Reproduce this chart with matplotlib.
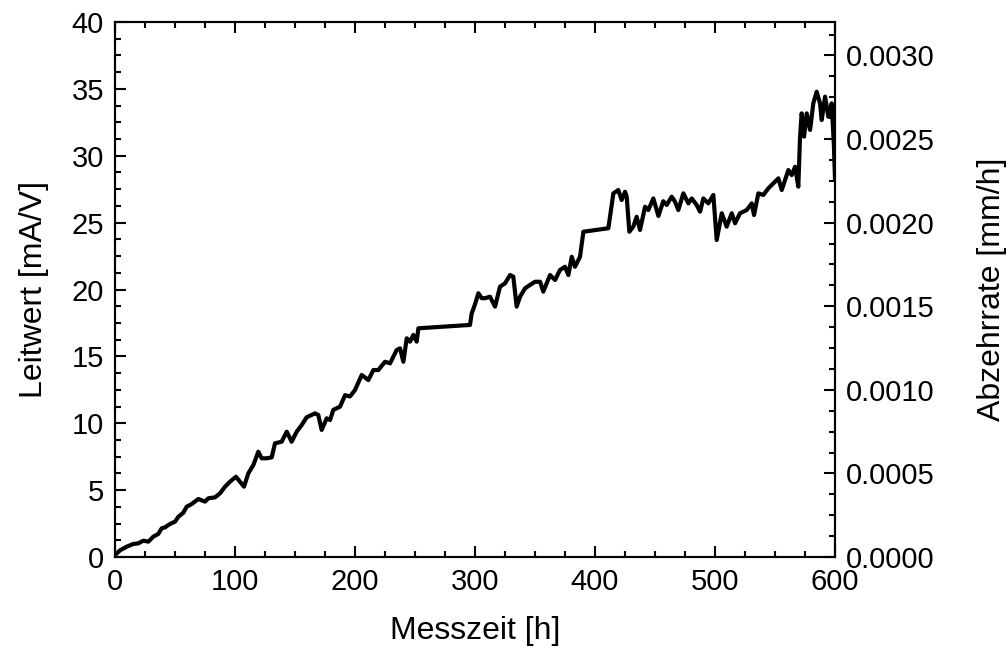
import matplotlib
matplotlib.use("Agg")
import matplotlib.pyplot as plt
from matplotlib.ticker import MultipleLocator, FormatStrFormatter

plt.rcParams['font.family'] = ['Liberation Sans', 'DejaVu Sans']

# Messzeit [h]
zeit = [
    0, 4.2, 9.7, 15, 19.4, 23.6, 27.8, 31.9, 36, 38.9, 41.7, 45.8, 50, 52.8,
    56.9, 59.7, 63.9, 69.4, 75, 77.8, 83.3, 87.5, 91.7, 95.8, 100.8, 104.2,
    107.5, 111.1, 115.3, 119.4, 122.2, 126.4, 130.6, 133.3, 138.9, 143.1,
    147.2, 151.4, 155.6, 159.7, 166.7, 169.4, 172.2, 176.4, 179.2, 181.9,
    187.5, 191.7, 195.8, 200, 205.6, 211.1, 215.3, 219.4, 225, 229.2, 234.7,
    237.5, 240.3, 243.1, 245.8, 248.6, 251.4, 252.8, 295.8, 297.2, 300,
    302.8, 305.6, 308.3, 312.5, 316.7, 320.8, 325, 329.2, 331.9, 334.7,
    337.5, 341.7, 345.8, 350, 354.2, 356.9, 362.5, 366.7, 370.8, 375, 377.8,
    380.6, 383.3, 387.5, 390.3, 411.1, 415.3, 419.4, 422.2, 425, 426.4,
    428.6, 431.9, 434.7, 437.5, 441.7, 444.4, 448.6, 452.8, 456.9, 459.7,
    463.9, 466.7, 469.4, 473.6, 477.8, 480.6, 484.7, 487.5, 490.3, 494.4,
    498.6, 501.4, 505.6, 509.7, 513.9, 516.7, 520.8, 526.4, 530.6, 532.5,
    536.1, 540.3, 544.4, 550, 552.8, 555.6, 561.1, 563.9, 566.7, 569.4,
    570.8, 572.2, 574.2, 576.4, 579.2, 581.9, 584.7, 587.5, 588.9, 591.7,
    594.4, 597.2, 599.0, 600,
]

# Leitwert [mA/V]
leitwert = [
    0.15, 0.5, 0.77, 0.97, 1.02, 1.22, 1.15, 1.52, 1.72, 2.14, 2.22, 2.47,
    2.64, 3.01, 3.31, 3.76, 3.96, 4.34, 4.14, 4.39, 4.46, 4.76, 5.26, 5.63,
    6.0, 5.63, 5.26, 6.26, 6.88, 7.87, 7.38, 7.38, 7.45, 8.5, 8.62, 9.37,
    8.62, 9.37, 9.87, 10.45, 10.74, 10.62, 9.5, 10.37, 10.24, 11.0, 11.24,
    12.1, 12.0, 12.49, 13.61, 13.23, 13.98, 13.98, 14.6, 14.48, 15.48, 15.6,
    14.6, 16.35, 16.1, 16.6, 16.1, 17.1, 17.35, 18.2, 18.9, 19.72, 19.35,
    19.35, 19.46, 18.72, 20.21, 20.46, 21.08, 20.96, 18.72, 19.46, 20.09,
    20.34, 20.58, 20.58, 19.84, 21.08, 20.71, 21.46, 21.7, 21.08, 22.45,
    21.7, 22.45, 24.32, 24.58, 27.19, 27.44, 26.69, 27.31, 26.94, 24.32,
    24.7, 25.44, 24.45, 26.19, 25.94, 26.81, 25.5, 26.6, 26.32, 26.94, 26.56,
    25.94, 27.19, 26.44, 26.81, 26.32, 25.82, 26.81, 26.44, 27.07, 23.7,
    25.7, 24.7, 25.7, 24.95, 25.7, 25.94, 26.44, 25.57, 27.19, 27.07, 27.56,
    28.06, 28.31, 27.44, 28.93, 28.56, 29.18, 27.69, 31.3, 33.17, 31.43,
    33.17, 31.93, 33.92, 34.79, 33.92, 32.67, 34.42, 32.92, 33.92, 30.9,
    28.2,
]

# Abzehrrate axis spans the same range as the Leitwert axis (40 mA/V <-> 0.0032 mm/h)
leitwert_max = 40
abzehr_max = 0.0032

fig = plt.figure(figsize=(10.08, 6.53), dpi=100)
ax = fig.add_axes([0.1141, 0.147, 0.7143, 0.8193])
ax.plot(zeit, leitwert, color='black', lw=3.0, solid_joinstyle='round')

ax.set_xlim(0, 600)
ax.set_ylim(0, leitwert_max)
ax.xaxis.set_major_locator(MultipleLocator(100))
ax.xaxis.set_minor_locator(MultipleLocator(25))
ax.yaxis.set_major_locator(MultipleLocator(5))
ax.yaxis.set_minor_locator(MultipleLocator(1.25))
ax.tick_params(which='both', direction='in', width=1.5, top=True, right=False,
               labelsize=21)
ax.tick_params(which='major', length=8)
ax.tick_params(which='minor', length=4)
ax.tick_params(axis='x', pad=8)
ax.tick_params(axis='y', pad=8)
for s in ax.spines.values():
    s.set_linewidth(1.5)

ax.set_xlabel('Messzeit [h]', fontsize=23, labelpad=14)
ax.set_ylabel('Leitwert [mA/V]', fontsize=23, labelpad=16)

ax2 = ax.twinx()
ax2.set_ylim(0, abzehr_max)
ax2.yaxis.set_major_locator(MultipleLocator(0.0005))
ax2.yaxis.set_minor_locator(MultipleLocator(0.000125))
ax2.yaxis.set_major_formatter(FormatStrFormatter('%.4f'))
ax2.tick_params(which='both', direction='in', width=1.5, labelsize=21, pad=8)
ax2.tick_params(which='major', length=8)
ax2.tick_params(which='minor', length=4)
ax2.set_ylabel('Abzehrrate [mm/h]', fontsize=23, labelpad=30)
for s in ax2.spines.values():
    s.set_linewidth(1.5)

fig.savefig('out.png', dpi=100)
